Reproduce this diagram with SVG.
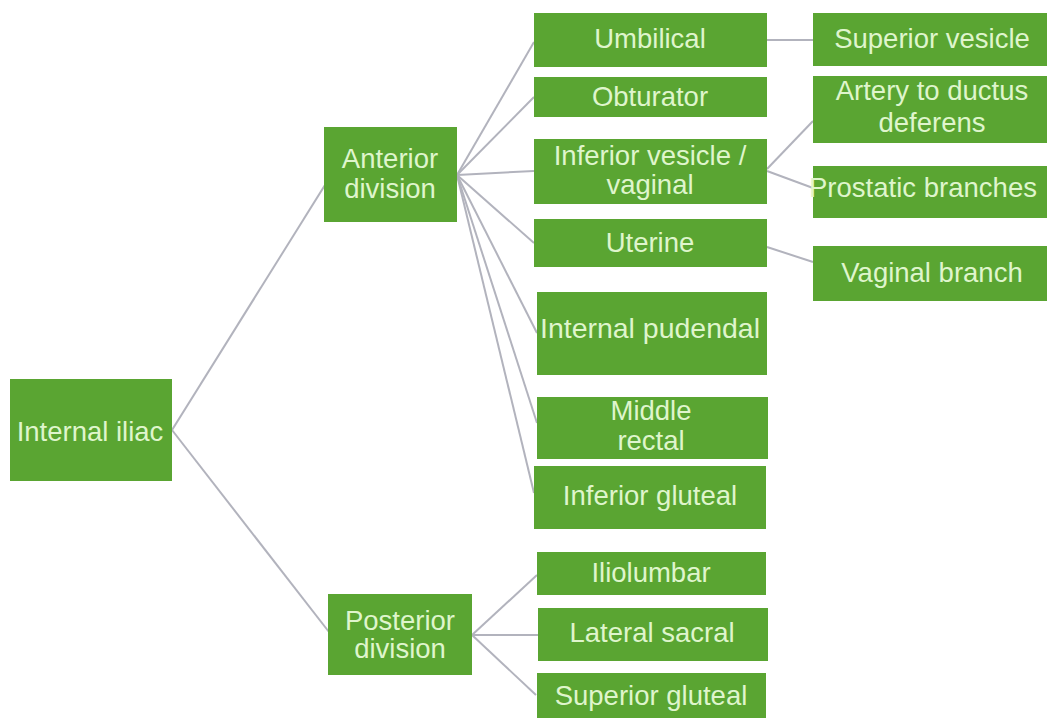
<svg xmlns="http://www.w3.org/2000/svg" width="1047" height="718" viewBox="0 0 1047 718">
<style>
.box{fill:#5aa532}
.t{font-family:"Liberation Sans",Arial,sans-serif;font-size:27.5px;fill:#dff5cc;text-anchor:middle}
.c{stroke:#b2b3bd;stroke-width:2;fill:none}
</style>
<rect width="1047" height="718" fill="#ffffff"/>
<g id="connectors" class="c">
<line x1="172" y1="430" x2="325" y2="185"/>
<line x1="172" y1="430" x2="329" y2="632"/>
<line x1="457" y1="175" x2="534" y2="42"/>
<line x1="457" y1="175" x2="534" y2="97"/>
<line x1="457" y1="175" x2="534" y2="171"/>
<line x1="457" y1="175" x2="534" y2="243"/>
<line x1="457" y1="175" x2="537" y2="333"/>
<line x1="457" y1="175" x2="537" y2="423"/>
<line x1="457" y1="175" x2="534" y2="493"/>
<line x1="767" y1="40" x2="813" y2="40"/>
<line x1="767" y1="169" x2="813" y2="121"/>
<line x1="767" y1="171" x2="813" y2="188"/>
<line x1="767" y1="247" x2="813" y2="262"/>
<line x1="472" y1="635" x2="537" y2="575"/>
<line x1="472" y1="635" x2="538" y2="635"/>
<line x1="472" y1="635" x2="536" y2="695"/>
</g>
<g id="internal-iliac"><rect class="box" x="10" y="379" width="162" height="102"/><text class="t" x="90" y="441">Internal iliac</text></g>
<g id="anterior-division"><rect class="box" x="324" y="127" width="133" height="95"/><text class="t" x="390" y="168">Anterior</text><text class="t" x="390" y="198">division</text></g>
<g id="posterior-division"><rect class="box" x="328" y="594" width="144" height="81"/><text class="t" x="400" y="630">Posterior</text><text class="t" x="400" y="658">division</text></g>
<g id="umbilical"><rect class="box" x="534" y="13" width="233" height="54"/><text class="t" x="650" y="48">Umbilical</text></g>
<g id="obturator"><rect class="box" x="534" y="77" width="233" height="40"/><text class="t" x="650" y="106">Obturator</text></g>
<g id="inferior-vesicle"><rect class="box" x="534" y="139" width="233" height="65"/><text class="t" x="650" y="165">Inferior vesicle /</text><text class="t" x="650" y="194">vaginal</text></g>
<g id="uterine"><rect class="box" x="534" y="219" width="233" height="48"/><text class="t" x="650" y="252">Uterine</text></g>
<g id="internal-pudendal"><rect class="box" x="537" y="292" width="230" height="83"/><text class="t" x="650" y="338" textLength="220" lengthAdjust="spacingAndGlyphs">Internal pudendal</text></g>
<g id="middle-rectal"><rect class="box" x="537" y="397" width="231" height="62"/><text class="t" x="651" y="420">Middle</text><text class="t" x="651" y="450">rectal</text></g>
<g id="inferior-gluteal"><rect class="box" x="534" y="466" width="232" height="63"/><text class="t" x="650" y="505">Inferior gluteal</text></g>
<g id="iliolumbar"><rect class="box" x="537" y="552" width="229" height="43"/><text class="t" x="651" y="582">Iliolumbar</text></g>
<g id="lateral-sacral"><rect class="box" x="538" y="608" width="230" height="53"/><text class="t" x="652" y="642">Lateral sacral</text></g>
<g id="superior-gluteal"><rect class="box" x="537" y="673" width="229" height="45"/><text class="t" x="651" y="705">Superior gluteal</text></g>
<g id="superior-vesicle"><rect class="box" x="813" y="13" width="234" height="53"/><text class="t" x="932" y="48">Superior vesicle</text></g>
<g id="artery-ductus"><rect class="box" x="813" y="76" width="234" height="67"/><text class="t" x="932" y="100">Artery to ductus</text><text class="t" x="932" y="132">deferens</text></g>
<g id="prostatic"><rect class="box" x="813" y="166" width="234" height="52"/><text class="t" x="923" y="197" textLength="228" lengthAdjust="spacingAndGlyphs">Prostatic branches</text></g>
<g id="vaginal-branch"><rect class="box" x="813" y="246" width="234" height="55"/><text class="t" x="932" y="282">Vaginal branch</text></g>
</svg>
